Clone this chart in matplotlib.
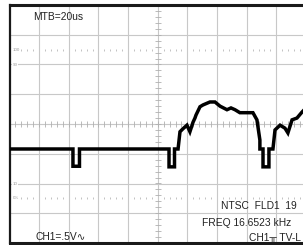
"""Oscilloscope screen capture: NTSC video line, CH1 trace."""

import matplotlib.pyplot as plt
import numpy as np

# trace: time in us (MTB=20us/div), level in V (CH1=.5V/div)
t_us = [0.0, 42.8, 42.8, 47.2, 47.2, 107.6, 107.6, 111.3, 111.3, 113.7,
        115.0, 117.0, 119.7, 121.7, 123.8, 125.1, 125.8, 128.5, 130.5, 135.2,
        138.6, 142.0, 146.7, 149.4, 152.1, 155.4, 164.2, 166.9, 168.9, 168.9,
        171.0, 171.0, 175.0, 175.0, 177.7, 179.1, 182.5, 185.8, 187.8, 190.6,
        193.9, 197.3, 200.0]
level_v = [-0.42, -0.42, -0.71, -0.71, -0.42, -0.42, -0.72, -0.72, -0.42, -0.42,
           -0.13, -0.08, -0.02, -0.13, 0.03, 0.10, 0.15, 0.29, 0.32, 0.37,
           0.37, 0.30, 0.24, 0.27, 0.24, 0.19, 0.19, 0.07, -0.27, -0.42,
           -0.42, -0.72, -0.72, -0.42, -0.42, -0.10, -0.02, -0.07, -0.15, 0.07,
           0.10, 0.20, 0.27]

ire_marks = [(1.25, "100"), (1.0, "90"), (-1.0, "10"), (-1.25, "0%")]

top_left = "MTB=20us"
bottom_left = "CH1=.5V\u223f"
readouts = ["NTSC  FLD1  19", "FREQ 16.6523 kHz", "CH1\u2565 TV-L"]

plt.rcParams["font.family"] = ["Liberation Sans", "DejaVu Sans"]

fig = plt.figure(figsize=(3.03, 2.45), dpi=100)
# the graticule runs a little past the right edge of the capture
ax = fig.add_axes([9.5 / 303, 2 / 245, 296.5 / 303, 238 / 245])
ax.set_xlim(0, 200)
ax.set_ylim(-2, 2)

grid_c = "#c8c8c8"
for x in np.arange(20, 200, 20):
    ax.axvline(x, color=grid_c, lw=0.8, zorder=1)
for y in np.arange(-1.5, 2.0, 0.5):
    ax.axhline(y, color=grid_c, lw=0.8, zorder=1)

# minor ticks on the centre lines
xm = np.arange(0, 200.1, 4)
ax.plot(xm, np.zeros_like(xm), ls="none", marker="|", ms=4, mew=0.6,
        color="#b0b0b0", zorder=1)
ym = np.arange(-2, 2.01, 0.1)
ax.plot(np.full_like(ym, 100), ym, ls="none", marker="_", ms=4, mew=0.6,
        color="#b0b0b0", zorder=1)

# dotted 100 / 0% reference lines and the IRE labels
for y, lab in ire_marks:
    if abs(y) > 1.1:
        xd = xm[(xm % 20) != 0]
        ax.plot(xd, np.full_like(xd, y), ls="none", marker="|", ms=1.6, mew=0.6,
                color="#b8b8b8", zorder=1)
    ax.text(2.0, y, lab, fontsize=3.2, color="#9a9a9a", va="center", ha="left",
            bbox=dict(fc="white", ec="none", pad=0.3), zorder=2)

ax.plot(t_us, level_v, color="black", lw=2.5, solid_joinstyle="miter", zorder=3)

ax.set_xticks([])
ax.set_yticks([])
ax.spines["right"].set_visible(False)
ax.spines["left"].set_linewidth(1.6)
ax.spines["top"].set_linewidth(2.2)
ax.spines["bottom"].set_linewidth(2.2)
for s in ("left", "top", "bottom"):
    ax.spines[s].set_color("#1a1a1a")

txt = dict(fontsize=7.4, color="#222222")
fig.text(33 / 303, 1 - 16.5 / 245, top_left, ha="left", va="center", **txt)
fig.text(35 / 303, 1 - 236.5 / 245, bottom_left, ha="left", va="center", **txt)
fig.text(297 / 303, 1 - 206 / 245, readouts[0], ha="right", va="center", **txt)
fig.text(291 / 303, 1 - 222.5 / 245, readouts[1], ha="right", va="center", **txt)
fig.text(301 / 303, 1 - 237.5 / 245, readouts[2], ha="right", va="center", **txt)

fig.savefig("out.png", dpi=100)
